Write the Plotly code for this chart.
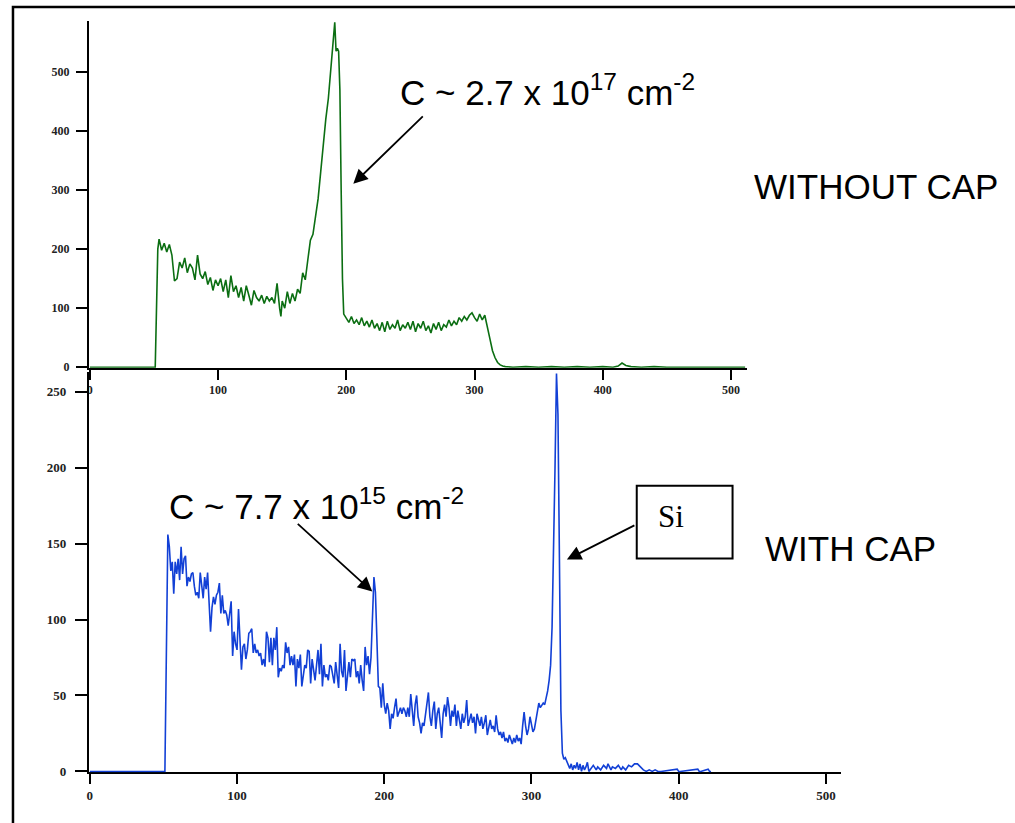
import plotly.graph_objects as go

# ---------------- data (channel, counts) ----------------
# WITHOUT CAP (top, green)
top_ch = [0, 51, 53, 54, 56, 58, 60, 62, 64, 66, 68, 70, 72, 74, 76, 78, 80, 82, 84, 86, 88, 90,
          92, 94, 96, 98, 100, 102, 104, 106, 108, 110, 112, 114, 116, 118, 120, 122, 124, 126,
          128, 130, 132, 134, 136, 138, 140, 142, 144, 146, 148, 149, 150, 152, 154, 156, 158,
          160, 162, 164, 166, 168, 170, 172, 174, 176, 178, 180, 182, 184, 186, 188, 189, 190,
          191, 192, 193, 194, 195, 196, 197, 198,
          200, 202, 204, 206, 208, 210, 212, 214, 216, 218, 220, 222, 224, 226, 228, 230, 232,
          234, 236, 238, 240, 242, 244, 246, 248, 250, 252, 254, 256, 258, 260, 262, 264, 266,
          268, 270, 272, 274, 276, 278, 280, 282, 284, 286, 288, 290, 292, 294, 296, 298, 300,
          302, 304, 306, 308, 310, 312, 314, 316, 318, 320, 322, 324,
          330, 340, 350, 360, 370, 380, 390, 400, 408, 412, 415, 418, 422, 430, 440, 450, 511]
top_counts = [0, 0, 200, 217, 198, 210, 195, 208, 190, 146, 150, 178, 168, 185, 160, 175, 168, 148,
              190, 158, 150, 162, 140, 152, 130, 148, 138, 150, 128, 148, 118, 155, 128, 138, 118,
              135, 112, 138, 122, 105, 130, 118, 112, 122, 108, 120, 112, 118, 108, 142, 100, 86,
              112, 100, 128, 108, 125, 112, 132, 125, 160, 148, 182, 215, 225, 255, 285, 330, 380,
              420, 455, 512, 530, 560, 584, 535, 540, 535, 470, 300, 150, 90,
              82, 76, 86, 74, 80, 72, 84, 70, 78, 68, 80, 66, 74, 62, 76, 60, 78, 64, 72, 66, 80,
              62, 72, 66, 76, 64, 78, 60, 74, 66, 78, 62, 70, 58, 74, 64, 76, 62, 72, 68, 80, 70,
              78, 72, 84, 78, 86, 80, 88, 92, 84, 78, 90, 80, 88, 70, 48, 28, 16, 8, 4, 2, 1,
              0, 1, 0, 1, 0, 1, 0, 1, 0, 2, 7, 3, 1, 0, 1, 0, 0]

# WITH CAP (bottom, blue)
bot_ch = [0, 51] + list(range(53, 340)) + [342, 344, 345, 347, 349, 351, 352, 354, 355, 357, 359,
                                           361, 362, 364, 366, 368, 370, 372, 374, 376, 378, 380,
                                           382, 384, 386, 388, 399, 400, 401, 413, 414, 415, 420,
                                           421, 422, 511]
bot_counts = [0, 0,
    156, 148, 132, 138, 117, 138, 130, 140, 126, 148, 130, 140, 142, 122, 128, 125, 130, 131, 122,  # 53-72
    116, 118, 114, 131, 122, 114, 128, 120, 131, 110, 92, 108, 115, 110, 116, 118, 124, 104, 116,   # 73-91
    104, 106, 103, 96, 104, 112, 76, 92, 84, 80, 107, 86, 67, 82, 84, 74, 80, 91, 92, 94,           # 92-111
    78, 84, 78, 80, 76, 78, 70, 74, 69, 92, 88, 72, 88, 70, 88, 80, 95, 62, 68, 66,                 # 112-131
    70, 68, 85, 78, 82, 70, 76, 70, 77, 56, 74, 68, 77, 56, 62, 70, 68, 80, 79, 58,                 # 132-151
    74, 67, 60, 70, 80, 64, 84, 56, 70, 62, 64, 60, 70, 69, 62, 58, 72, 62, 55, 84,                 # 152-171
    66, 62, 80, 53, 64, 72, 62, 74, 73, 74, 62, 66, 58, 70, 60, 53, 82, 70, 76, 64,                 # 172-191
    75, 100, 128, 118, 90, 56, 55, 42, 58, 44, 38, 45, 40, 28, 38, 35, 42, 48, 36, 40,              # 192-211
    42, 38, 42, 40, 36, 42, 36, 51, 38, 30, 44, 50, 36, 32, 25, 32, 30, 38, 42, 52,                 # 212-231
    36, 30, 40, 46, 28, 38, 42, 34, 22, 38, 44, 36, 49, 42, 30, 40, 36, 44, 30, 40,                 # 232-251
    34, 28, 38, 32, 36, 47, 30, 34, 38, 32, 36, 25, 38, 34, 30, 36, 28, 32, 37, 24,                 # 252-271
    30, 34, 28, 30, 26, 37, 28, 24, 26, 22, 26, 20, 22, 19, 24, 20, 18, 22, 19, 24,                 # 272-291
    20, 22, 18, 30, 39, 30, 24, 28, 36, 31, 26, 28, 34, 40, 45, 42, 44, 45, 44, 48,                 # 292-311
    53, 60, 70, 95, 140, 200, 262, 235, 140, 40, 12, 8, 9, 7, 4, 2, 5, 1, 4, 2,                     # 312-331
    6, 1, 5, 0, 4, 1, 3, 6,                                                                          # 332-339
    0, 4, 1, 3, 1, 4, 2, 5, 1, 3, 2, 4, 1, 3, 1, 4, 3, 5, 5, 3, 1, 0, 1, 0, 1, 0, 0, 1.5, 0, 0,
    1.5, 0, 0, 1.5, 0, 0]

top_ticks = [0, 100, 200, 300, 400, 500]
top_yticks = [0, 100, 200, 300, 400, 500]
bot_ticks = [0, 100, 200, 300, 400, 500]
bot_yticks = [0, 50, 100, 150, 200, 250]

W, H = 1015, 823
HE = 816.6  # effective vertical scale of the rendered page


def px(x):
    return x / W


def py(y):
    return 1 - y / HE


fig = go.Figure()
fig.add_trace(go.Scatter(x=top_ch, y=top_counts, mode="lines",
                         line=dict(color="#0b6e12", width=1.6), xaxis="x", yaxis="y",
                         showlegend=False, hoverinfo="skip"))
fig.add_trace(go.Scatter(x=bot_ch, y=bot_counts, mode="lines",
                         line=dict(color="#1240d6", width=1.6), xaxis="x2", yaxis="y2",
                         showlegend=False, hoverinfo="skip"))

tickfont_top = dict(family="Liberation Serif", size=12, color="#222", weight="bold")
tickfont_bot = dict(family="Liberation Serif", size=13, color="#222", weight="bold")
common = dict(showgrid=False, zeroline=False, showline=True, linecolor="black", linewidth=2,
              ticks="outside", tickcolor="black", tickwidth=2, tickmode="array",
              layer="below traces")

fig.update_layout(
    width=W, height=H, margin=dict(l=0, r=0, t=0, b=0),
    paper_bgcolor="white", plot_bgcolor="white",
    xaxis=dict(domain=[px(87), px(746)], range=[-0.78, 512.1], tickvals=top_ticks,
               ticklen=10, tickfont=tickfont_top, anchor="y", ticklabelstandoff=0, **common),
    yaxis=dict(domain=[py(368), py(21)], range=[-0.85, 586.3], tickvals=top_yticks,
               ticklen=11, tickfont=tickfont_top, anchor="x", ticklabelstandoff=4, **common),
    xaxis2=dict(domain=[px(87), px(841)], range=[-0.68, 510.5], tickvals=bot_ticks,
                ticklen=10, tickfont=tickfont_bot, anchor="y2", ticklabelstandoff=0, **common),
    yaxis2=dict(domain=[py(773), py(372)], range=[-0.66, 263.2], tickvals=bot_yticks,
                ticklen=12, tickfont=tickfont_bot, anchor="x2", ticklabelstandoff=6, **common),
)

sans = "Liberation Sans"
ann = []
ann.append(dict(x=px(397), y=py(90), xref="paper", yref="paper", xanchor="left", yanchor="middle",
                text="C ~ 2.7 x 10<sup>17</sup> cm<sup>-2</sup>", showarrow=False,
                font=dict(family=sans, size=35, color="black")))
ann.append(dict(x=px(751), y=py(187), xref="paper", yref="paper", xanchor="left", yanchor="middle",
                text="WITHOUT CAP", showarrow=False, font=dict(family=sans, size=35, color="black")))
ann.append(dict(x=px(165), y=py(504), xref="paper", yref="paper", xanchor="left", yanchor="middle",
                text="C ~ 7.7 x 10<sup>15</sup> cm<sup>-2</sup>", showarrow=False,
                font=dict(family=sans, size=35, color="black")))
ann.append(dict(x=px(763), y=py(549), xref="paper", yref="paper", xanchor="left", yanchor="middle",
                text="WITH CAP", showarrow=False, font=dict(family=sans, size=35, color="black")))
ann.append(dict(x=px(655), y=py(517), xref="paper", yref="paper", xanchor="left", yanchor="middle",
                text="Si", showarrow=False,
                font=dict(family="Liberation Serif", size=31, color="black")))
# arrows (head at x,y; tail offset in pixels)
for hx, hy, tx, ty in [(352, 184, 423, 115), (371, 592, 295, 523), (566, 560, 635, 525)]:
    ann.append(dict(x=px(hx), y=py(hy), xref="paper", yref="paper", text="", showarrow=True,
                    ax=tx - hx, ay=ty - hy, arrowhead=2, arrowsize=1.6, arrowwidth=1.8,
                    arrowcolor="black", standoff=0))
fig.update_layout(annotations=ann)

fig.update_layout(shapes=[
    dict(type="rect", xref="paper", yref="paper", x0=px(636), x1=px(732), y0=py(559), y1=py(486),
         line=dict(color="black", width=2), fillcolor="rgba(0,0,0,0)"),
    dict(type="rect", xref="paper", yref="paper", x0=px(11), x1=1.05, y0=-0.05, y1=py(7),
         line=dict(color="black", width=2.5), fillcolor="rgba(0,0,0,0)"),
])

fig.write_html("out.html")
